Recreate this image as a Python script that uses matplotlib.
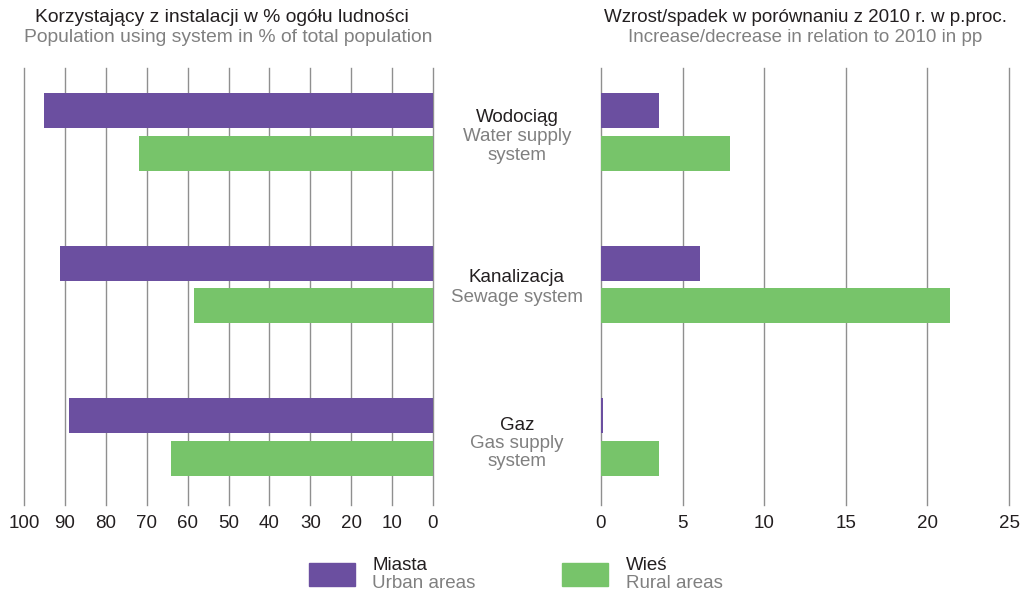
import matplotlib
matplotlib.use("Agg")
import matplotlib.pyplot as plt
import numpy as np
from matplotlib.patches import Rectangle

plt.rcParams['font.family'] = ['Liberation Sans', 'DejaVu Sans']

categories_pl = ["Wodociąg", "Kanalizacja", "Gaz"]
categories_en = [["Water supply", "system"], ["Sewage system"], ["Gas supply", "system"]]
urban_share = [95, 91.2, 89]
rural_share = [71.9, 58.5, 64]
urban_change = [3.55, 6.05, 0.1]
rural_change = [7.9, 21.4, 3.55]
left_ticks = [0, 10, 20, 30, 40, 50, 60, 70, 80, 90, 100]
right_ticks = [0, 5, 10, 15, 20, 25]

PURPLE = "#6B4FA0"
GREEN = "#77C46A"
GRID = "#8f8f8f"
DARK = "#231F20"
GREY = "#808080"
FS = 13.5

W, H = 1026, 592
fig = plt.figure(figsize=(W / 100, H / 100), dpi=100)

def ax_rect(x0, x1, y0, y1):
    return [x0 / W, 1 - y1 / H, (x1 - x0) / W, (y1 - y0) / H]

axL = fig.add_axes(ax_rect(24, 433, 68, 505))
axR = fig.add_axes(ax_rect(601, 1009, 68, 505))

y = np.arange(len(categories_pl))
off = 0.14
h = 0.23

for ax, urb, rur, ticks, lim in [
    (axL, urban_share, rural_share, left_ticks, (100, 0)),
    (axR, urban_change, rural_change, right_ticks, (0, 25)),
]:
    for t in ticks:
        ax.axvline(t, color=GRID, lw=1.0, zorder=1, clip_on=False)
    ax.barh(y - off, urb, height=h, color=PURPLE, zorder=3)
    ax.barh(y + off, rur, height=h, color=GREEN, zorder=3)
    ax.set_xlim(*lim)
    ax.set_ylim(2.446, -0.42)
    ax.set_xticks(ticks)
    ax.set_xticklabels([str(t) for t in ticks], fontsize=FS, color=DARK)
    ax.tick_params(axis='x', length=0, pad=7)
    ax.set_yticks([])
    for s in ax.spines.values():
        s.set_visible(False)
    ax.patch.set_alpha(0)

# Titles
fig.text(222 / W, 1 - 18 / H, "Korzystający z instalacji w % ogółu ludności",
         ha='center', va='center', fontsize=13.9, color=DARK)
fig.text(228 / W, 1 - 37 / H, "Population using system in % of total population",
         ha='center', va='center', fontsize=13.9, color=GREY)
fig.text(805 / W, 1 - 18 / H, "Wzrost/spadek w porównaniu z 2010 r. w p.proc.",
         ha='center', va='center', fontsize=13.5, color=DARK)
fig.text(805 / W, 1 - 37 / H, "Increase/decrease in relation to 2010 in pp",
         ha='center', va='center', fontsize=13.5, color=GREY)

# Category labels
cx = 517 / W
pl_y = [118, 278, 425]
for i in range(len(categories_pl)):
    fig.text(cx, 1 - pl_y[i] / H, categories_pl[i], ha='center', va='center',
             fontsize=FS, color=DARK)
    for j, line in enumerate(categories_en[i]):
        fig.text(cx, 1 - (pl_y[i] + 19 + 18 * j) / H, line, ha='center', va='center',
                 fontsize=FS, color=GREY)

# Legend
fig.patches.append(Rectangle((309 / W, 1 - 586 / H), 46 / W, 23 / H,
                             transform=fig.transFigure, color=PURPLE))
fig.patches.append(Rectangle((562 / W, 1 - 586 / H), 46 / W, 23 / H,
                             transform=fig.transFigure, color=GREEN))
fig.text(372 / W, 1 - 566 / H, "Miasta", ha='left', va='center', fontsize=FS, color=DARK)
fig.text(372 / W, 1 - 584 / H, "Urban areas", ha='left', va='center', fontsize=FS, color=GREY)
fig.text(626 / W, 1 - 566 / H, "Wieś", ha='left', va='center', fontsize=FS, color=DARK)
fig.text(626 / W, 1 - 584 / H, "Rural areas", ha='left', va='center', fontsize=FS, color=GREY)

fig.savefig("out.png", dpi=100, facecolor='white')
